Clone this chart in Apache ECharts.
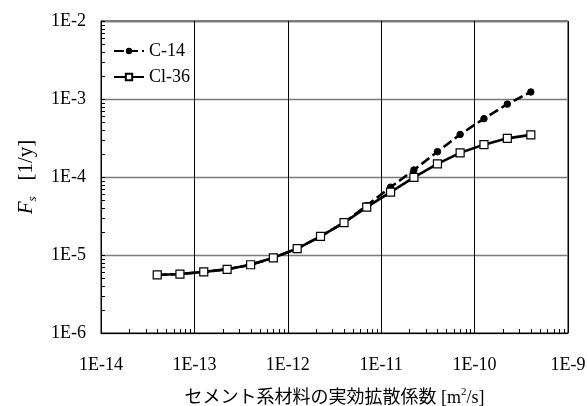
<!DOCTYPE html>
<html>
<head>
<meta charset="utf-8">
<script src="https://cdn.jsdelivr.net/npm/echarts@6/dist/echarts.min.js"></script>
<style>
  html, body { margin: 0; padding: 0; background: #fff; }
  #main { width: 587px; height: 406px; }
</style>
</head>
<body>
<div id="main"></div>
<script>
// 実効拡散係数 [m2/s]
var diffCoef = [4e-14, 7e-14, 1.26e-13, 2.24e-13, 4e-13, 7e-13, 1.26e-12, 2.24e-12, 4e-12,
  7e-12, 1.26e-11, 2.24e-11, 4e-11, 7e-11, 1.26e-10, 2.24e-10, 4e-10];
// Fs [1/y]
var c14 = [5.55e-6, 5.7e-6, 6.07e-6, 6.56e-6, 7.5e-6, 9.2e-6, 1.21e-5, 1.73e-5, 2.6e-5,
  4.3e-5, 7.4e-5, 1.23e-4, 2.11e-4, 3.51e-4, 5.6e-4, 8.6e-4, 1.23e-3];
var cl36 = [5.55e-6, 5.7e-6, 6.07e-6, 6.56e-6, 7.5e-6, 9.2e-6, 1.21e-5, 1.73e-5, 2.6e-5,
  4.1e-5, 6.4e-5, 9.9e-5, 1.47e-4, 2.04e-4, 2.6e-4, 3.13e-4, 3.47e-4];
var seriesNames = ['C-14', 'Cl-36'];
var xTicks = [1e-14, 1e-13, 1e-12, 1e-11, 1e-10, 1e-9];
var xTickLabels = ['1E-14', '1E-13', '1E-12', '1E-11', '1E-10', '1E-9'];
var yTicks = [1e-6, 1e-5, 1e-4, 1e-3, 1e-2];
var yTickLabels = ['1E-6', '1E-5', '1E-4', '1E-3', '1E-2'];
var minorSteps = [2, 3, 4, 5, 6, 7, 8, 9];

var serif = 'Liberation Serif';
var jpFont = "'Liberation Serif', 'Noto Sans CJK JP', serif";

function pairs(xs, ys) {
  return xs.map(function (x, i) { return [x, ys[i]]; });
}
function minorValues(ticks) {
  var out = [];
  for (var i = 0; i < ticks.length - 1; i++) {
    minorSteps.forEach(function (m) { out.push(ticks[i] * m); });
  }
  return out;
}
function tickLabel(ticks, labels) {
  return function (v) {
    for (var i = 0; i < ticks.length; i++) {
      if (Math.abs(Math.log10(v) - Math.log10(ticks[i])) < 1e-6) return labels[i];
    }
    return '';
  };
}

var xMin = xTicks[0], xMax = xTicks[xTicks.length - 1];
var yMin = yTicks[0], yMax = yTicks[yTicks.length - 1];

var myChart = echarts.init(document.getElementById('main'));
var option = {
  animation: false,
  backgroundColor: '#fff',
  textStyle: { fontFamily: serif, color: '#000' },
  grid: {
    left: 101, right: 19, top: 21, bottom: 73,
    outerBoundsMode: 'none', containLabel: false,
    show: true, borderColor: '#000', borderWidth: 1
  },
  legend: {
    data: seriesNames,
    orient: 'vertical',
    left: 108, top: 37,
    itemWidth: 30, itemHeight: 8, itemGap: 8,
    textStyle: { fontFamily: serif, fontSize: 18, color: '#000' }
  },
  xAxis: {
    type: 'log', logBase: 10, min: xMin, max: xMax,
    name: 'セメント系材料の実効拡散係数 [m{sup|2}/s]',
    nameLocation: 'middle', nameGap: 54,
    nameTextStyle: {
      fontFamily: jpFont, fontSize: 18, color: '#000', lineHeight: 22,
      rich: { sup: { fontFamily: serif, fontSize: 11, verticalAlign: 'top', lineHeight: 22 } }
    },
    axisLine: { lineStyle: { color: '#000', width: 1 } },
    axisTick: { inside: true, length: 4, lineStyle: { color: '#000' } },
    axisLabel: { margin: 23, fontFamily: serif, fontSize: 18, color: '#000', formatter: tickLabel(xTicks, xTickLabels) },
    splitLine: { show: true, lineStyle: { color: '#000', width: 1 } }
  },
  yAxis: {
    type: 'log', logBase: 10, min: yMin, max: yMax,
    name: '{it|F}{sub|s}   [1/y]',
    nameLocation: 'middle', nameGap: 62, nameRotate: 90,
    nameTextStyle: {
      fontFamily: serif, fontSize: 21, color: '#000', lineHeight: 26,
      rich: {
        it: { fontFamily: serif, fontStyle: 'italic', fontSize: 21, lineHeight: 26 },
        sub: { fontFamily: serif, fontStyle: 'italic', fontSize: 13, verticalAlign: 'bottom', lineHeight: 26 }
      }
    },
    axisLine: { lineStyle: { color: '#000', width: 1 } },
    axisTick: { inside: true, length: 4, lineStyle: { color: '#000' } },
    axisLabel: { margin: 15, fontFamily: serif, fontSize: 18, color: '#000', formatter: tickLabel(yTicks, yTickLabels) },
    splitLine: { show: true, lineStyle: { color: '#7a7a7a', width: 1.3 } }
  },
  series: [
    {
      name: seriesNames[0], type: 'line', data: pairs(diffCoef, c14),
      symbol: 'circle', symbolSize: 6.5,
      itemStyle: { color: '#000', borderColor: '#000' },
      lineStyle: { color: '#000', width: 2.6, type: [10, 4] },
      z: 3
    },
    {
      name: seriesNames[1], type: 'line', data: pairs(diffCoef, cl36),
      symbol: 'rect', symbolSize: 8,
      itemStyle: { color: '#fff', borderColor: '#000', borderWidth: 1.2 },
      lineStyle: { color: '#000', width: 2.6 },
      z: 4
    }
  ]
};
myChart.setOption(option);

// 補助目盛（対数軸の2〜9）を軸のスケールから求めて描く
var minorLines = [];
minorValues(xTicks).forEach(function (v) {
  var p = myChart.convertToPixel({ gridIndex: 0 }, [v, yMin]);
  var x = Math.round(p[0]) + 0.5;
  minorLines.push({ type: 'line', z: 10, silent: true,
    shape: { x1: x, y1: p[1], x2: x, y2: p[1] - 4 }, style: { stroke: '#000', lineWidth: 1 } });
});
minorValues(yTicks).forEach(function (v) {
  var p = myChart.convertToPixel({ gridIndex: 0 }, [xMin, v]);
  var y = Math.round(p[1]) + 0.5;
  minorLines.push({ type: 'line', z: 10, silent: true,
    shape: { x1: p[0], y1: y, x2: p[0] + 4, y2: y }, style: { stroke: '#000', lineWidth: 1 } });
});
myChart.setOption({ graphic: { elements: minorLines } });
</script>
</body>
</html>
